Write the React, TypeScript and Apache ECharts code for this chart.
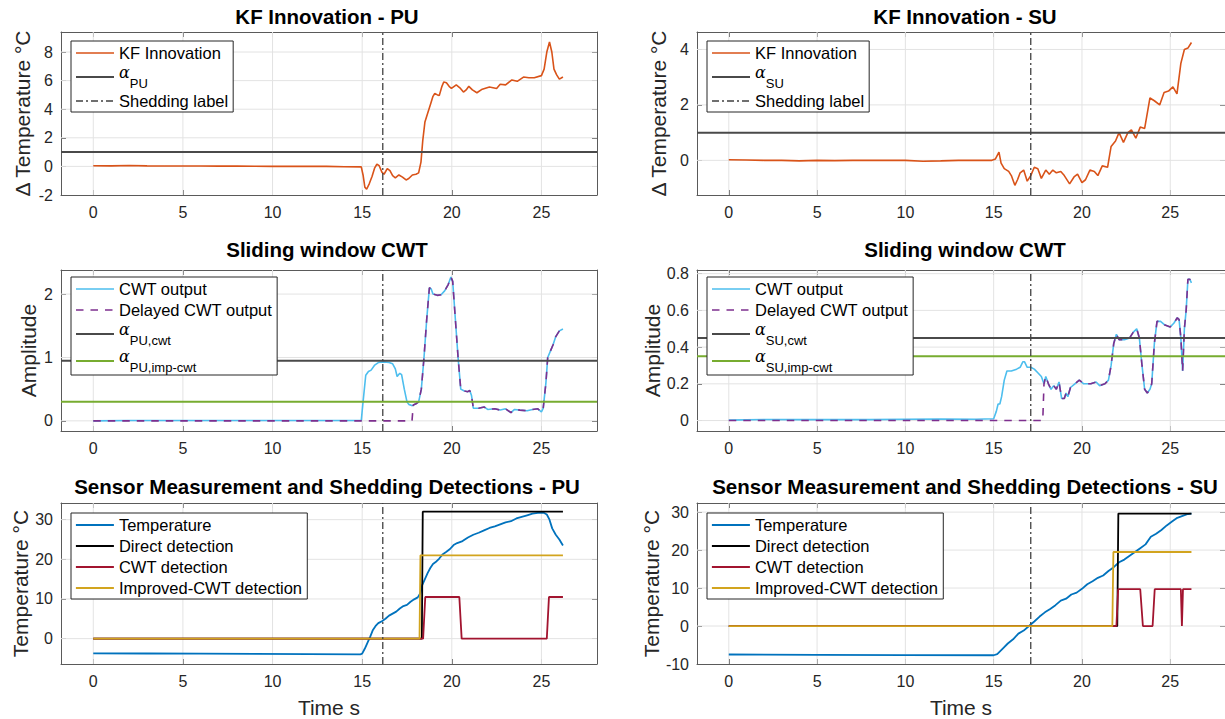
import React, { useEffect, useRef } from 'react';
import * as echarts from 'echarts';

// ---------- axis settings ----------
const X_MIN = -1.8;
const X_MAX = 28.1;
const X_SPLIT = 5; // gives ticks 0, 5, ..., 25
const X_TICKS = [0, 5, 10, 15, 20, 25];

const SHED_PU = 16.15;
const SHED_SU = 17.1;

// ---------- data: KF innovation ----------
const innovPU: number[][] = [
  [0, 0.05], [1, 0.04], [2, 0.06], [3, 0.04], [4, 0.03], [5, 0.03], [6, 0.03], [7, 0.02], [8, 0.02], [9, 0.01],
  [10, 0.0], [11, 0.0], [12, 0.0], [13, 0.0], [14, -0.02], [14.95, -0.03], [15.05, -0.6], [15.15, -1.45], [15.25, -1.6],
  [15.4, -1.2], [15.55, -0.7], [15.7, -0.1], [15.82, 0.15], [15.95, 0.05], [16.1, -0.4], [16.22, -0.55], [16.4, -0.15],
  [16.55, -0.3], [16.7, -0.65], [16.85, -0.8], [17.05, -0.6], [17.25, -0.75], [17.45, -0.95], [17.6, -0.85], [17.8, -0.6],
  [18.0, -0.55], [18.15, -0.45], [18.28, 0.3], [18.38, 1.8], [18.5, 3.1], [18.65, 3.7], [18.8, 4.3], [18.95, 4.9], [19.05, 5.1],
  [19.2, 5.0], [19.3, 4.95], [19.45, 5.6], [19.55, 5.9], [19.7, 5.85], [19.85, 5.6], [19.98, 5.45], [20.25, 5.7], [20.45, 5.5],
  [20.65, 5.2], [20.8, 5.35], [20.95, 5.6], [21.15, 5.35], [21.4, 5.15], [21.7, 5.4], [22.1, 5.55], [22.5, 5.45], [22.7, 5.75],
  [23.0, 5.7], [23.35, 6.05], [23.65, 5.95], [24.0, 6.25], [24.3, 6.2], [24.6, 6.2], [25.0, 6.35], [25.15, 6.8], [25.3, 8.0],
  [25.45, 8.7], [25.58, 8.0], [25.7, 6.8], [25.85, 6.4], [26.0, 6.1], [26.2, 6.25],
];

const innovSU: number[][] = [
  [0, 0.02], [1, 0.01], [2, 0.0], [3, 0.0], [4, -0.02], [5, 0.0], [6, -0.01], [7, 0.0], [8, 0.0], [9, 0.0], [10, 0.0],
  [11, -0.03], [12, -0.02], [13, 0.0], [14, 0.0], [14.9, 0.0], [15.1, 0.05], [15.3, 0.3], [15.42, -0.1], [15.6, -0.3],
  [15.85, -0.4], [16.0, -0.55], [16.2, -0.9], [16.35, -0.7], [16.5, -0.45], [16.7, -0.35], [16.9, -0.75], [17.1, -0.55],
  [17.3, -0.25], [17.5, -0.3], [17.7, -0.65], [17.95, -0.35], [18.15, -0.5], [18.35, -0.35], [18.55, -0.45], [18.8, -0.4],
  [19.0, -0.55], [19.3, -0.85], [19.55, -0.6], [19.75, -0.5], [20.0, -0.8], [20.2, -0.7], [20.45, -0.35], [20.7, -0.4],
  [20.9, -0.55], [21.15, -0.2], [21.45, -0.25], [21.65, 0.5], [21.9, 0.7], [22.1, 1.0], [22.35, 0.65], [22.6, 1.0],
  [22.8, 1.1], [23.05, 0.8], [23.3, 1.2], [23.55, 1.15], [23.85, 2.25], [24.1, 2.15], [24.4, 2.0], [24.65, 2.45],
  [24.9, 2.5], [25.15, 2.65], [25.38, 2.4], [25.6, 3.5], [25.8, 4.0], [26.0, 4.05], [26.2, 4.25],
];

const ALPHA_PU = 1.0;
const ALPHA_SU = 1.0;

// ---------- data: sliding window CWT ----------
const cwtPU: number[][] = [
  [0, 0], [2, 0.005], [5, 0.005], [10, 0.005], [14.95, 0.005], [15.05, 0.3], [15.2, 0.72], [15.35, 0.78], [15.5, 0.8],
  [15.7, 0.88], [15.9, 0.92], [16.2, 0.93], [16.5, 0.92], [16.7, 0.9], [16.85, 0.82], [16.95, 0.7], [17.1, 0.75],
  [17.2, 0.73], [17.35, 0.5], [17.5, 0.3], [17.6, 0.26], [17.8, 0.24], [18.0, 0.27], [18.15, 0.3], [18.3, 0.5],
  [18.45, 1.0], [18.6, 1.6], [18.75, 2.1], [18.85, 2.08], [18.95, 2.0], [19.2, 1.98], [19.4, 1.99], [19.6, 2.05],
  [19.8, 2.15], [19.95, 2.27], [20.05, 2.2], [20.2, 1.6], [20.35, 1.0], [20.5, 0.5], [20.7, 0.47], [20.9, 0.46],
  [21.0, 0.48], [21.1, 0.4], [21.2, 0.2], [21.5, 0.2], [21.8, 0.22], [22.0, 0.18], [22.4, 0.19], [22.7, 0.17],
  [23.0, 0.19], [23.3, 0.13], [23.5, 0.18], [23.8, 0.17], [24.2, 0.16], [24.5, 0.18], [24.8, 0.19], [25.0, 0.14],
  [25.1, 0.2], [25.25, 0.6], [25.35, 1.0], [25.5, 1.1], [25.65, 1.2], [25.8, 1.33], [26.0, 1.42], [26.2, 1.45],
];
const delayedPUHead: number[][] = [[0, 0], [17.78, 0], [17.85, 0.25]];
const DELAY_PU_JOIN = 18.0;

const cwtSU: number[][] = [
  [0, 0.002], [2, 0.006], [4, 0.005], [6, 0.006], [8, 0.005], [10, 0.007], [12, 0.008], [14, 0.007], [15.0, 0.01],
  [15.15, 0.05], [15.25, 0.09], [15.35, 0.09], [15.45, 0.13], [15.6, 0.22], [15.75, 0.27], [16.0, 0.27], [16.3, 0.28],
  [16.5, 0.29], [16.65, 0.32], [16.75, 0.32], [16.9, 0.29], [17.1, 0.29], [17.3, 0.28], [17.5, 0.26], [17.7, 0.24],
  [17.85, 0.2], [17.95, 0.24], [18.1, 0.2], [18.25, 0.17], [18.4, 0.19], [18.55, 0.17], [18.7, 0.21], [18.85, 0.12],
  [19.0, 0.12], [19.1, 0.15], [19.2, 0.13], [19.35, 0.18], [19.6, 0.2], [19.85, 0.22], [20.1, 0.2], [20.5, 0.2],
  [20.8, 0.21], [21.0, 0.19], [21.3, 0.2], [21.5, 0.22], [21.65, 0.3], [21.8, 0.42], [21.95, 0.47], [22.1, 0.44],
  [22.4, 0.44], [22.7, 0.45], [22.9, 0.48], [23.1, 0.5], [23.25, 0.45], [23.4, 0.3], [23.55, 0.17], [23.7, 0.15],
  [23.85, 0.17], [23.95, 0.2], [24.1, 0.42], [24.25, 0.54], [24.45, 0.54], [24.7, 0.52], [25.0, 0.51], [25.2, 0.53],
  [25.4, 0.56], [25.5, 0.55], [25.6, 0.45], [25.7, 0.27], [25.8, 0.5], [25.9, 0.6], [26.0, 0.77], [26.1, 0.77], [26.2, 0.75],
];
const delayedSUHead: number[][] = [[0, 0], [17.78, 0], [17.85, 0.2]];
const DELAY_SU_JOIN = 17.95;

const ALPHA_PU_CWT = 0.95;
const ALPHA_PU_IMP = 0.3;
const ALPHA_SU_CWT = 0.45;
const ALPHA_SU_IMP = 0.35;

// ---------- data: sensor temperature & detections ----------
const tempPU: number[][] = [
  [0, -3.7], [3, -3.75], [6, -3.8], [9, -3.85], [12, -3.9], [14.9, -3.95], [15.0, -3.8], [15.15, -2.5], [15.3, -1.0],
  [15.45, 0.5], [15.6, 2.2], [15.75, 3.2], [15.9, 3.9], [16.1, 4.4], [16.3, 5.0], [16.5, 5.8], [16.7, 6.3], [16.9, 6.8],
  [17.1, 7.6], [17.3, 8.2], [17.5, 8.5], [17.7, 9.3], [17.9, 9.9], [18.1, 10.4], [18.25, 11.5], [18.35, 13.5],
  [18.5, 15.0], [18.65, 16.5], [18.8, 17.8], [18.95, 18.8], [19.1, 19.3], [19.3, 20.2], [19.5, 21.3], [19.7, 21.9],
  [19.9, 22.6], [20.1, 23.6], [20.3, 24.1], [20.6, 24.6], [20.9, 25.5], [21.2, 26.2], [21.5, 26.7], [21.8, 27.3],
  [22.1, 27.9], [22.4, 28.3], [22.7, 28.8], [23.0, 29.3], [23.3, 29.6], [23.6, 30.3], [23.9, 30.7], [24.2, 31.1],
  [24.5, 31.5], [24.8, 31.7], [25.1, 31.8], [25.3, 31.3], [25.45, 30.0], [25.6, 27.8], [25.8, 26.2], [26.0, 25.0], [26.2, 23.5],
];
const directPU: number[][] = [[0, 0], [18.33, 0], [18.38, 32], [26.2, 32]];
const cwtDetPU: number[][] = [[0, 0], [18.4, 0], [18.52, 10.5], [20.42, 10.5], [20.55, 0], [25.3, 0], [25.42, 10.5], [26.2, 10.5]];
const improvedPU: number[][] = [[0, 0], [18.2, 0], [18.25, 21], [26.2, 21]];

const tempSU: number[][] = [
  [0, -7.5], [5, -7.6], [10, -7.65], [15, -7.7], [15.2, -7.4], [15.5, -6.0], [15.8, -4.6], [16.1, -3.5], [16.4, -2.0],
  [16.7, -1.2], [17.0, 0.0], [17.3, 1.2], [17.6, 2.5], [17.9, 3.6], [18.2, 4.5], [18.5, 5.5], [18.8, 6.7], [19.1, 7.2],
  [19.4, 8.3], [19.7, 8.8], [20.0, 9.8], [20.3, 11.0], [20.6, 11.8], [20.9, 12.7], [21.2, 13.3], [21.5, 14.5],
  [21.8, 15.5], [22.1, 16.8], [22.4, 17.5], [22.7, 18.5], [23.0, 19.5], [23.3, 20.5], [23.6, 21.5], [23.9, 23.5],
  [24.2, 24.3], [24.5, 25.3], [24.8, 26.5], [25.1, 27.5], [25.4, 28.5], [25.7, 29.0], [26.0, 29.5], [26.2, 29.6],
];
const directSU: number[][] = [[0, 0], [22.0, 0], [22.06, 29.6], [26.2, 29.6]];
const cwtDetSU: number[][] = [
  [0, 0], [21.95, 0], [22.05, 9.7], [23.3, 9.7], [23.45, 0], [24.0, 0], [24.12, 9.7], [25.6, 9.7], [25.66, 0], [25.72, 9.7], [26.2, 9.7],
];
const improvedSU: number[][] = [[0, 0], [21.72, 0], [21.78, 19.5], [26.2, 19.5]];

// ---------- y axes ----------
const yLimits = [
  [-2, 9.4], [-1.25, 4.63],
  [-0.16, 2.38], [-0.057, 0.82],
  [-6.4, 34.2], [-10, 32.4],
];
const yTicks = [
  [-2, 0, 2, 4, 6, 8], [0, 2, 4],
  [0, 1, 2], [0, 0.2, 0.4, 0.6, 0.8],
  [0, 10, 20, 30], [-10, 0, 10, 20, 30],
];
// splitNumber that yields the reference tick steps (2, 2, 1, 0.2, 10, 10)
const ySplit = [5, 3, 2, 5, 5, 5];
const yShowMin = [true, false, false, false, false, true];
const titles = [
  'KF Innovation - PU', 'KF Innovation - SU',
  'Sliding window CWT', 'Sliding window CWT',
  'Sensor Measurement and Shedding Detections - PU', 'Sensor Measurement and Shedding Detections - SU',
];
const yNames = ['Δ Temperature °C', 'Δ Temperature °C', 'Amplitude', 'Amplitude', 'Temperature °C', 'Temperature °C'];

// ---------- colours ----------
const C_INNOV = '#D95319';
const C_ALPHA = '#4a4a4a';
const C_SHED = '#404040';
const C_CWT = '#4DBEEE';
const C_DELAY = '#7E2F8E';
const C_GREEN = '#77AC30';
const C_TEMP = '#0072BD';
const C_DIRECT = '#000000';
const C_CWTDET = '#A2142F';
const C_IMP = '#D2A41E';
const C_BOX = '#5a5a5a';
const C_GRID = '#e3e3e3';

const FONT = 'Liberation Sans, Arial, Helvetica, sans-serif';

// ---------- layout ----------
const COL_LEFT = [61, 697];
const GRID_W = 536;
const ROWS = [[32, 195], [270, 431], [503, 664]];
const TITLE_TOP = [6, 239, 476];
const LEGEND_POS = [[71, 41], [707, 41], [71, 277], [707, 277], [71, 513], [707, 513]];
const Z_LINES = 6;

const SUBS: Record<string, string> = {
  aPU: 'PU', aSU: 'SU', aPUcwt: 'PU,cwt', aPUimp: 'PU,imp-cwt', aSUcwt: 'SU,cwt', aSUimp: 'SU,imp-cwt',
};

const tick = () => ({ show: true, inside: true, length: 5, lineStyle: { color: C_BOX, width: 1 } });
const axLine = () => ({ show: true, onZero: false, lineStyle: { color: C_BOX, width: 1 } });

function buildOption() {
  const grid: any[] = [];
  const xAxis: any[] = [];
  const yAxis: any[] = [];
  const title: any[] = [];
  const legend: any[] = [];
  const series: any[] = [];

  for (let i = 0; i < 6; i++) {
    const col = i % 2;
    const row = Math.floor(i / 2);
    const [top, bottom] = ROWS[row];
    grid.push({ left: COL_LEFT[col], top, width: GRID_W, height: bottom - top, show: false, containLabel: false });
    title.push({
      text: titles[i], left: COL_LEFT[col] + GRID_W / 2 - (col === 1 ? 0 : 2), top: TITLE_TOP[row], textAlign: 'center', padding: 0,
      textStyle: { fontFamily: FONT, fontSize: 20.5, fontWeight: 'bold', color: '#000' },
    });
  }
  // primary axes
  for (let i = 0; i < 6; i++) {
    const row = Math.floor(i / 2);
    xAxis.push({
      gridIndex: i, type: 'value', position: 'bottom', min: X_MIN, max: X_MAX, splitNumber: X_SPLIT,
      axisLine: axLine(),
      axisTick: tick(),
      axisLabel: { fontFamily: FONT, fontSize: 16, color: '#262626', margin: 9, showMinLabel: false, showMaxLabel: false },
      splitLine: { show: false },
      name: row === 2 ? 'Time s' : '', nameLocation: 'middle', nameGap: 33,
      nameTextStyle: { fontFamily: FONT, fontSize: 21, color: '#262626' },
    });
    yAxis.push({
      gridIndex: i, type: 'value', position: 'left', min: yLimits[i][0], max: yLimits[i][1], splitNumber: ySplit[i],
      axisLine: axLine(),
      axisTick: tick(),
      axisLabel: { fontFamily: FONT, fontSize: 16, color: '#262626', margin: 8, showMinLabel: yShowMin[i], showMaxLabel: false },
      splitLine: { show: false },
      name: yNames[i], nameLocation: 'middle', nameRotate: 90,
      nameGap: row === 1 ? 22 : 28,
      nameTextStyle: { fontFamily: FONT, fontSize: 21, color: '#262626' },
    });
  }
  // mirrored axes (box edges with ticks on top and right)
  for (let i = 0; i < 6; i++) {
    xAxis.push({
      gridIndex: i, type: 'value', position: 'top', min: X_MIN, max: X_MAX, splitNumber: X_SPLIT,
      axisLine: axLine(), axisLabel: { show: false }, splitLine: { show: false },
      axisTick: tick(),
    });
    yAxis.push({
      gridIndex: i, type: 'value', position: 'right', min: yLimits[i][0], max: yLimits[i][1], splitNumber: ySplit[i],
      axisLine: axLine(), axisLabel: { show: false }, splitLine: { show: false },
      axisTick: tick(),
    });
  }

  const line = (i: number, name: string, data: number[][], color: string, width: number, type: any = 'solid') => {
    series.push({
      type: 'line', name, xAxisIndex: i, yAxisIndex: i, data, showSymbol: false, symbol: 'none',
      lineStyle: { color, width, type }, itemStyle: { color }, z: Z_LINES, silent: true, emphasis: { disabled: true },
      animation: false,
    });
  };

  // grid lines at the tick values, drawn first (same layer as the data, beneath it)
  for (let i = 0; i < 6; i++) {
    X_TICKS.forEach((v) => line(i, 'grid', [[v, yLimits[i][0]], [v, yLimits[i][1]]], C_GRID, 1));
    yTicks[i].filter((v) => v > yLimits[i][0]).forEach((v) => line(i, 'grid', [[X_MIN, v], [X_MAX, v]], C_GRID, 1));
  }

  const hLine = (i: number, name: string, y: number, color: string, width: number) =>
    line(i, name, [[X_MIN, y], [X_MAX, y]], color, width);
  const vLine = (i: number, x: number) =>
    line(i, 'Shedding label', [[x, yLimits[i][0]], [x, yLimits[i][1]]], C_SHED, 1.3, [7, 3, 2, 3]);

  // KF innovation
  line(0, 'KF Innovation', innovPU, C_INNOV, 1.6);
  hLine(0, 'aPU', ALPHA_PU, C_ALPHA, 2);
  vLine(0, SHED_PU);
  line(1, 'KF Innovation', innovSU, C_INNOV, 1.6);
  hLine(1, 'aSU', ALPHA_SU, C_ALPHA, 2);
  vLine(1, SHED_SU);

  // CWT
  line(2, 'CWT output', cwtPU, C_CWT, 1.6);
  line(2, 'Delayed CWT output', delayedPUHead.concat(cwtPU.filter((p) => p[0] >= DELAY_PU_JOIN)), C_DELAY, 1.6, [7.5, 7]);
  hLine(2, 'aPUcwt', ALPHA_PU_CWT, C_ALPHA, 2);
  hLine(2, 'aPUimp', ALPHA_PU_IMP, C_GREEN, 2);
  vLine(2, SHED_PU);
  line(3, 'CWT output', cwtSU, C_CWT, 1.6);
  line(3, 'Delayed CWT output', delayedSUHead.concat(cwtSU.filter((p) => p[0] >= DELAY_SU_JOIN)), C_DELAY, 1.6, [7.5, 7]);
  hLine(3, 'aSUcwt', ALPHA_SU_CWT, C_ALPHA, 2);
  hLine(3, 'aSUimp', ALPHA_SU_IMP, C_GREEN, 2);
  vLine(3, SHED_SU);

  // Sensor measurement
  line(4, 'Temperature', tempPU, C_TEMP, 1.8);
  line(4, 'Direct detection', directPU, C_DIRECT, 1.8);
  line(4, 'CWT detection', cwtDetPU, C_CWTDET, 1.8);
  line(4, 'Improved-CWT detection', improvedPU, C_IMP, 1.8);
  vLine(4, SHED_PU);
  line(5, 'Temperature', tempSU, C_TEMP, 1.8);
  line(5, 'Direct detection', directSU, C_DIRECT, 1.8);
  line(5, 'CWT detection', cwtDetSU, C_CWTDET, 1.8);
  line(5, 'Improved-CWT detection', improvedSU, C_IMP, 1.8);
  vLine(5, SHED_SU);

  const legendData = [
    ['KF Innovation', 'aPU', 'Shedding label'],
    ['KF Innovation', 'aSU', 'Shedding label'],
    ['CWT output', 'Delayed CWT output', 'aPUcwt', 'aPUimp'],
    ['CWT output', 'Delayed CWT output', 'aSUcwt', 'aSUimp'],
    ['Temperature', 'Direct detection', 'CWT detection', 'Improved-CWT detection'],
    ['Temperature', 'Direct detection', 'CWT detection', 'Improved-CWT detection'],
  ];
  for (let i = 0; i < 6; i++) {
    legend.push({
      z: 20,
      data: legendData[i], orient: 'vertical', left: LEGEND_POS[i][0], top: LEGEND_POS[i][1],
      padding: [2, 5, 1, 4], itemGap: 1, itemWidth: 38, itemHeight: 14,
      backgroundColor: '#ffffff', borderColor: '#262626', borderWidth: 1, borderRadius: 0,
      selectedMode: false,
      lineStyle: { width: 'inherit' },
      itemStyle: { opacity: 0, color: 'rgba(0,0,0,0)', borderWidth: 0 },
      formatter: (name: string) => (SUBS[name] ? `{a|α}{s|${SUBS[name]}}` : name),
      textStyle: {
        fontFamily: FONT, fontSize: 16.5, color: '#000', lineHeight: 20,
        rich: {
          a: { fontFamily: 'DejaVu Serif', fontStyle: 'italic', fontSize: 16, lineHeight: 26, verticalAlign: 'top', color: '#000' },
          s: { fontFamily: FONT, fontSize: 13, verticalAlign: 'bottom', color: '#000' },
        },
      },
    });
  }

  return { animation: false, backgroundColor: '#ffffff', grid, xAxis, yAxis, title, legend, series };
}

export default function App() {
  const ref = useRef<HTMLDivElement>(null);
  useEffect(() => {
    const chart = echarts.init(ref.current!, undefined, { renderer: 'svg' });
    chart.setOption(buildOption() as any);
    return () => chart.dispose();
  }, []);
  return (
    <div
      ref={ref}
      style={{ position: 'fixed', left: 0, top: 0, width: 1225, height: 719, background: '#fff' }}
    />
  );
}
